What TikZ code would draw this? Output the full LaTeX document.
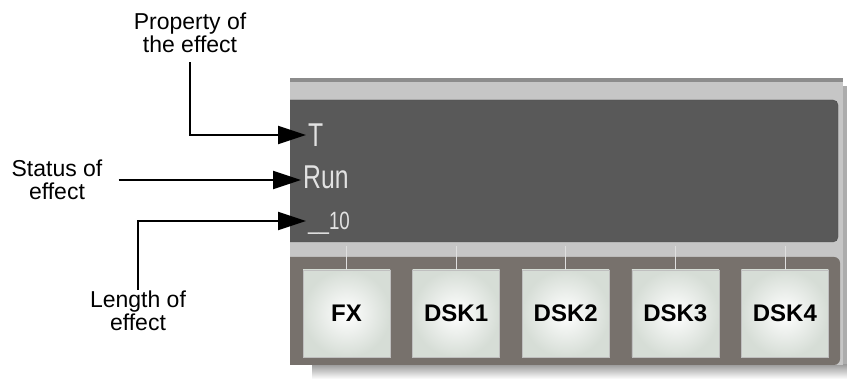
\documentclass[tikz,border=0pt]{standalone}
\usepackage{fontspec}
\setmainfont{Liberation Sans}
\usetikzlibrary{arrows.meta}
\definecolor{lcdgray}{HTML}{595959}
\definecolor{panelgray}{HTML}{C6C6C6}
\definecolor{edgegray}{HTML}{8C8C8C}
\definecolor{bargray}{HTML}{77716C}
\definecolor{lcdtext}{HTML}{E2E2E2}
\definecolor{btnface}{HTML}{D6DDD6}
\newcommand{\lcdtxt}[1]{\scalebox{0.75}[1]{#1}}

\begin{document}
\begin{tikzpicture}[x=1pt, y=-1pt,
    lbl/.style={align=center, inner sep=1pt, font=\fontsize{23}{23}\selectfont},
    lcd/.style={anchor=west, text=lcdtext, inner sep=2pt, font=\fontsize{33}{33}\selectfont},
    btn/.style={minimum width=87pt, minimum height=87pt, inner sep=0pt, draw=gray!50,
      inner color=white, outer color=btnface, font=\fontsize{24}{24}\selectfont\bfseries},
    tick/.style={draw=gray!25, line width=0.8pt},
    pointer/.style={line width=2pt, -{Triangle[length=28pt, width=18pt]}}]
  \useasboundingbox (0,0) rectangle (847,379);
  % Shadow
  \fill[gray!65] (843,86) rectangle (847,365);
  \shade[top color=gray!75, bottom color=white] (312,365) rectangle (847,379);
  % Panel
  \fill[panelgray] (290,78) rectangle (843,365);
  \fill[edgegray] (290,78) rectangle (843,82);
  \fill[lcdgray, draw=black!70, rounded corners=5pt] (290,100) -- (838,100) -- (838,242) -- (290,242);
  \fill[bargray, rounded corners=6pt] (290,257) -- (840,257) -- (840,365) -- (290,365);
  % Display text
  \node[lcd] (tval) at (306,135) {\lcdtxt{T}};
  \node[lcd] (runval) at (301,177) {\lcdtxt{Run}};
  \node[lcd, text depth=0pt, font=\fontsize{25}{25}\selectfont] (lenval) at (306,221) {\lcdtxt{\_\_10}};
  % Buttons
  \foreach \name/\txt [count=\i from 0] in {fx/FX, dska/DSK1, dskb/DSK2, dskc/DSK3, dskd/DSK4} {
    \node[btn] (\name) at (346.5+109.6*\i,313.5) {\txt};
    \draw[tick] (\name.north) -- ++(0,-24);
  }
  % Labels
  \node[lbl] (prop) at (190,33) {Property of\\the effect};
  \node[lbl] (stat) at (57,180) {Status of\\effect};
  \node[lbl, anchor=north] (len) at (138,290) {Length of\\effect};
  % Pointers
  \draw[pointer, shorten <=8pt] (prop.south) |- (tval.west);
  \draw[pointer, shorten <=15pt] (stat.east) -- (stat.east -| runval.west);
  \draw[pointer] (len.north) |- (lenval.west);
\end{tikzpicture}
\end{document}
